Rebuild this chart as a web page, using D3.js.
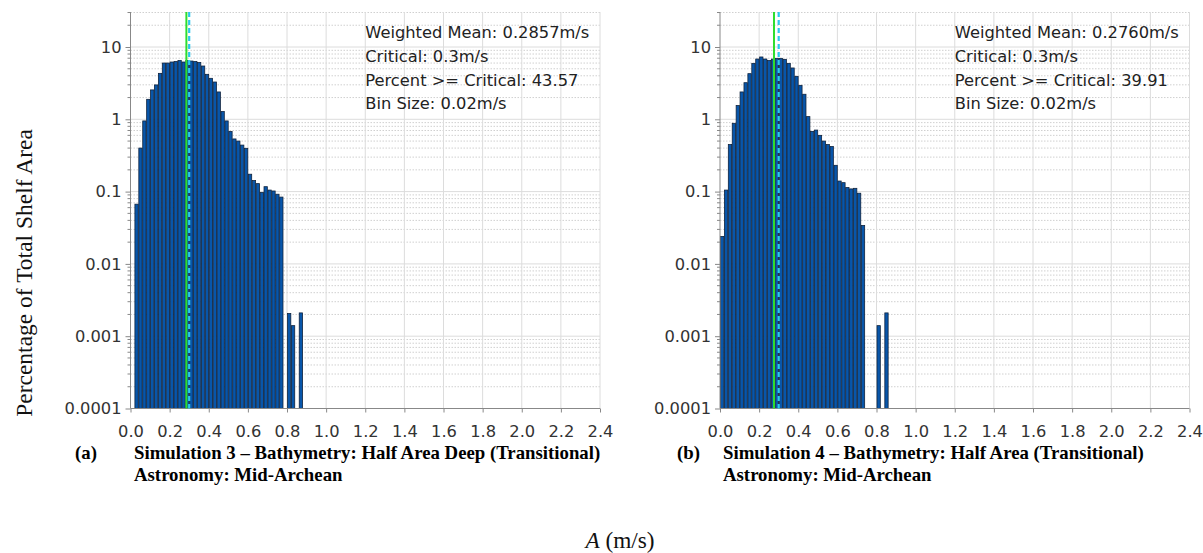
<!DOCTYPE html>
<html><head><meta charset="utf-8">
<script src="https://cdn.jsdelivr.net/npm/d3@7"></script>
<style>body{margin:0;background:#fff}svg{display:block}</style>
</head><body><svg id="c" width="1203" height="553"></svg>
<script>
// ---- data ----
const binSize = 0.02;
// Simulation 3 (a): bins start at 0.02 (index 1) through 0.78, plus isolated bins
const simA_start = 1;
const simA_values = [0.067,0.40,0.95,1.89,2.55,2.99,4.32,6.0,6.0,6.2,6.3,6.5,6.2,6.5,6.4,6.3,6.1,5.46,4.19,3.69,3.28,2.39,1.28,0.95,0.68,0.535,0.50,0.44,0.397,0.174,0.142,0.129,0.097,0.117,0.105,0.102,0.092,0.084];
const simA_extraBins = [40,41,43];
const simA_extraValues = [0.00206,0.0014,0.0021];
// Simulation 4 (b): bins start at 0.00 (index 0) through 0.74
const simB_start = 0;
const simB_values = [0.024,0.105,0.447,0.88,1.55,2.39,3.21,4.28,5.94,6.82,7.28,6.82,6.5,6.8,6.97,6.97,6.75,5.94,5.13,3.93,2.95,2.22,1.09,0.68,0.71,0.60,0.50,0.447,0.42,0.231,0.14,0.133,0.114,0.109,0.111,0.095,0.034];
const simB_extraBins = [40,42];
const simB_extraValues = [0.0014,0.0021];
const weightedMeans = [0.2857, 0.2760];
const critical = 0.3;
const percents = ["43.57", "39.91"];
const xTicks = [0,0.2,0.4,0.6,0.8,1.0,1.2,1.4,1.6,1.8,2.0,2.2,2.4];
const yTicks = [0.0001,0.001,0.01,0.1,1,10];
const yTickLabels = ["0.0001","0.001","0.01","0.1","1","10"];
const captionLetters = ["(a)","(b)"];
const captionLine1 = ["Simulation 3 \u2013 Bathymetry: Half Area Deep (Transitional)","Simulation 4 \u2013 Bathymetry: Half Area (Transitional)"];
const captionLine2 = ["Astronomy: Mid-Archean","Astronomy: Mid-Archean"];

const svg = d3.select("#c");

function panel(x0, x1, start, values, extraBins, extraValues, mean, pct) {
  const x = d3.scaleLinear().domain([0,2.4]).range([x0,x1]);
  const y = d3.scaleLog().domain([0.0001,30.5]).range([408.5,12]);
  const g = svg.append("g");
  // minor horizontal grid
  const minors = [];
  for (let e=-4; e<=1; e++) for (let m=2; m<=9; m++) { const v=m*Math.pow(10,e); if (v<=30.5) minors.push(v); }
  g.selectAll(".mg").data(minors).join("line")
    .attr("x1",x0).attr("x2",x1).attr("y1",d=>y(d)).attr("y2",d=>y(d))
    .attr("stroke","#d0d0d0").attr("stroke-width",1).attr("stroke-dasharray","1.5,1.5");
  g.selectAll(".hg").data(yTicks.slice(1)).join("line")
    .attr("x1",x0).attr("x2",x1).attr("y1",d=>y(d)).attr("y2",d=>y(d))
    .attr("stroke","#dcdcdc").attr("stroke-width",1);
  g.selectAll(".vg").data(xTicks.slice(1)).join("line")
    .attr("x1",d=>x(d)).attr("x2",d=>x(d)).attr("y1",12).attr("y2",408.5)
    .attr("stroke","#dcdcdc").attr("stroke-width",1);
  // bars
  const bars = values.map((v,i)=>({b:start+i,v})).concat(extraBins.map((b,i)=>({b,v:extraValues[i]})));
  g.selectAll(".bar").data(bars).join("rect")
    .attr("x",d=>x(d.b*binSize)+0.5)
    .attr("width",d=>x((d.b+1)*binSize)-x(d.b*binSize)-0.6)
    .attr("y",d=>y(d.v)).attr("height",d=>408.5-y(d.v))
    .attr("fill","#0856aa").attr("stroke","#10233d").attr("stroke-width",0.8);
  // axes
  const yAxis = d3.axisLeft(y).tickValues(yTicks).tickFormat((d,i)=>yTickLabels[i]).tickSize(5).tickPadding(4);
  const ya = g.append("g").attr("transform",`translate(${x0},0)`).call(yAxis);
  // minor ticks on y
  g.selectAll(".mt").data(minors).join("line")
    .attr("x1",x0-3).attr("x2",x0).attr("y1",d=>y(d)).attr("y2",d=>y(d)).attr("stroke","#888");
  const xAxis = d3.axisBottom(x).tickValues(xTicks).tickFormat(d3.format(".1f")).tickSize(4).tickPadding(13);
  const xa = g.append("g").attr("transform","translate(0,408.5)").call(xAxis);
  [ya,xa].forEach(a=>{
    a.select(".domain").attr("stroke","#888");
    a.selectAll(".tick line").attr("stroke","#888");
    a.selectAll("text").attr("font-family","DejaVu Sans").attr("font-size",16.3).attr("fill","#333");
  });
  ya.select(".domain").attr("d",`M0,12V408.5`);
  xa.select(".domain").attr("d",`M${x0},0H${x1}`);
  // lines
  g.append("line").attr("x1",x(mean)).attr("x2",x(mean)).attr("y1",12).attr("y2",408.5)
    .attr("stroke","#2ede2e").attr("stroke-width",2);
  g.append("line").attr("x1",x(critical)).attr("x2",x(critical)).attr("y1",12).attr("y2",408.5)
    .attr("stroke","#2cc8ec").attr("stroke-width",2.2).attr("stroke-dasharray","5,3");
  // legend text
  const lines = [`Weighted Mean: ${mean.toFixed(4)}m/s`,`Critical: ${critical}m/s`,`Percent >= Critical: ${pct}`,`Bin Size: ${binSize}m/s`];
  g.selectAll(".lt").data(lines).join("text")
    .attr("x",x(1.2)).attr("y",(d,i)=>38+i*23.8)
    .attr("font-family","DejaVu Sans").attr("font-size",16.3).attr("fill","#222").text(d=>d);
}
panel(130.5, 600, simA_start, simA_values, simA_extraBins, simA_extraValues, weightedMeans[0], percents[0]);
panel(720, 1189.5, simB_start, simB_values, simB_extraBins, simB_extraValues, weightedMeans[1], percents[1]);

// y axis title
svg.append("text").attr("transform","translate(31.5,273) rotate(-90)")
  .attr("text-anchor","middle").attr("font-family","Liberation Serif").attr("font-size",23.5).attr("fill","#111")
  .text("Percentage of Total Shelf Area");
// captions
const capX = [[75,134],[677,723]];
[0,1].forEach(i=>{
  svg.append("text").attr("x",capX[i][0]).attr("y",459).attr("font-family","Liberation Serif").attr("font-weight","bold").attr("font-size",18.8).text(captionLetters[i]);
  svg.append("text").attr("x",capX[i][1]).attr("y",459).attr("font-family","Liberation Serif").attr("font-weight","bold").attr("font-size",18.8).text(captionLine1[i]);
  svg.append("text").attr("x",capX[i][1]).attr("y",481).attr("font-family","Liberation Serif").attr("font-weight","bold").attr("font-size",18.8).text(captionLine2[i]);
});
const t = svg.append("text").attr("x",620).attr("y",548).attr("text-anchor","middle").attr("font-family","Liberation Serif").attr("font-size",23.3).attr("fill","#111");
t.append("tspan").attr("font-style","italic").text("A");
t.append("tspan").text(" (m/s)");
</script></body></html>
